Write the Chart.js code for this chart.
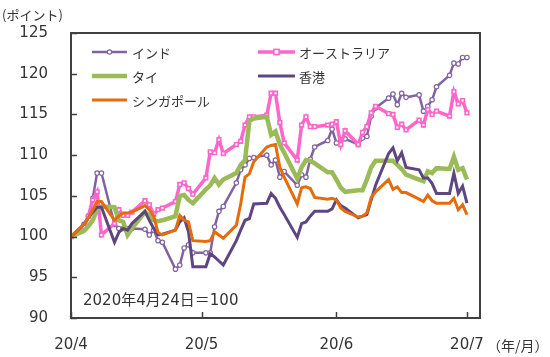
<!DOCTYPE html>
<html>
<head>
<meta charset="utf-8">
<script src="https://cdn.jsdelivr.net/npm/chart.js@4.4.1/dist/chart.umd.min.js"></script>
<style>
html,body{margin:0;padding:0;background:#fff;}
#wrap{width:550px;height:357px;position:relative;}
</style>
</head>
<body>
<div id="wrap"><canvas id="c" width="550" height="357"></canvas></div>
<script>
// ---- data ----
const dates = [
"2020-04-24","2020-04-27","2020-04-28","2020-04-29","2020-04-30","2020-05-01",
"2020-05-04","2020-05-05","2020-05-06","2020-05-07","2020-05-08",
"2020-05-11","2020-05-12","2020-05-13","2020-05-14","2020-05-15",
"2020-05-18","2020-05-19","2020-05-20","2020-05-21","2020-05-22",
"2020-05-25","2020-05-26","2020-05-27","2020-05-28","2020-05-29",
"2020-06-01","2020-06-02","2020-06-03","2020-06-04","2020-06-05",
"2020-06-08","2020-06-09","2020-06-10","2020-06-11","2020-06-12",
"2020-06-15","2020-06-16","2020-06-17","2020-06-18","2020-06-19",
"2020-06-22","2020-06-23","2020-06-24","2020-06-25","2020-06-26",
"2020-06-29","2020-06-30","2020-07-01","2020-07-02","2020-07-03",
"2020-07-06","2020-07-07","2020-07-08","2020-07-09","2020-07-10",
"2020-07-13","2020-07-14","2020-07-15","2020-07-16","2020-07-17",
"2020-07-20","2020-07-21","2020-07-22","2020-07-23","2020-07-24"];

const india = [100,101.5,102.5,104.7,107.8,107.8,
101.5,101.0,101.0,101.0,101.0,
100.9,100.2,100.8,99.5,99.3,
96.0,96.5,98.6,99.0,98.0,
98.0,98.0,101.2,103.1,103.7,
106.6,108.2,108.8,109.6,109.7,
110.0,108.8,109.4,107.3,108.0,
106.3,107.6,107.3,109.5,111.0,
111.8,113.2,111.5,111.8,112.0,
111.3,112.1,112.3,114.8,115.8,
117.0,117.5,116.2,117.6,117.1,
117.4,115.4,116.0,116.8,118.4,
119.8,121.3,121.2,122.0,122.0];

const australia = [100,101.2,102.5,104.5,105.5,100.2,
101.6,103.3,102.6,102.6,103.0,
104.4,103.9,102.7,103.3,103.5,
104.3,106.4,106.6,105.9,105.2,
107.2,110.4,110.3,111.9,110.2,
111.3,111.7,113.7,114.7,114.7,
114.9,117.6,117.6,114.0,111.5,
109.4,113.7,114.7,113.5,113.5,
113.7,113.8,114.1,111.3,113.0,
111.3,112.8,113.5,115.2,116.0,
115.1,115.0,113.4,113.8,113.1,
114.3,113.7,115.6,115.0,115.4,
114.8,117.8,116.3,116.7,115.2];

const thailand = [100,100.7,101.3,102.0,103.3,103.7,
103.6,102.0,101.8,100.2,101.0,
103.0,102.6,102.0,101.9,102.0,
102.5,105.0,105.1,104.5,104.1,
105.8,106.3,107.2,106.4,107.0,
107.8,108.8,109.4,114.2,114.5,
114.7,112.5,112.9,111.3,110.3,
107.1,108.5,109.4,109.3,109.0,
107.9,107.9,107.0,106.0,105.5,
105.7,105.7,107.0,108.5,109.3,
109.3,109.3,108.8,108.3,107.6,
107.0,106.8,108.0,107.8,108.4,
108.3,109.8,108.2,108.4,107.0];

const hongkong = [100,101.5,102.3,103.0,103.6,103.6,
99.3,100.5,101.0,100.8,101.6,
103.1,102.0,101.0,100.2,100.3,
100.8,101.8,102.3,100.6,96.3,
96.3,97.9,97.5,97.0,96.5,
99.5,100.8,102.0,102.2,104.0,
104.1,105.3,104.7,103.6,102.7,
99.9,101.6,101.8,102.5,103.1,
103.1,103.4,104.5,103.8,103.5,
102.3,102.5,102.7,104.5,106.3,
110.2,110.9,109.3,110.3,108.5,
108.2,107.2,107.2,106.5,105.3,
105.3,107.8,105.3,106.2,104.1];

const singapore = [100,101.5,102.3,103.3,104.3,104.3,
102.0,102.5,102.9,102.9,103.0,
103.8,103.3,102.5,100.5,100.2,
100.8,102.6,102.0,101.8,99.5,
99.4,99.5,100.6,100.2,99.8,
101.4,104.0,107.3,107.7,109.2,
111.0,111.2,111.3,108.5,107.3,
104.0,106.0,106.1,105.9,104.8,
104.6,104.7,104.5,103.5,103.1,
102.4,102.5,102.9,104.8,105.5,
107.0,105.8,106.1,105.4,105.4,
104.6,104.3,105.1,104.4,104.1,
104.1,104.7,103.3,103.9,102.7];

const seriesNames = ["インド","オーストラリア","タイ","香港","シンガポール"];
const tickDates = ["2020-04-24","2020-05-24","2020-06-24","2020-07-24"];
const tickLabels = ["20/4","20/5","20/6","20/7"];
const yTicks = [90,95,100,105,110,115,120,125];

// ---- helpers ----
const t0 = Date.parse(dates[0]+"T00:00:00Z");
const dayOf = s => Math.round((Date.parse(s+"T00:00:00Z") - t0)/86400000);
const tickDays = tickDates.map(dayOf);
const pts = arr => dates.map((d,i)=>({x: dayOf(d), y: arr[i]}));

const C_INDIA = "#8064A2", C_AUS = "#FF66CC", C_THAI = "#9BBB59", C_HK = "#5E4681", C_SG = "#E46C0A";
const NUMFONT = "'DejaVu Sans','Noto Sans CJK JP',sans-serif";
const JPFONT = "'Noto Sans CJK JP','DejaVu Sans',sans-serif";
const TXT = "#333333";

const datasets = [
  {label: seriesNames[0], data: pts(india), borderColor: C_INDIA, borderWidth: 2.5,
   pointStyle: 'circle', pointRadius: 2.2, pointBorderWidth: 1.2, pointBackgroundColor: "#fff", pointBorderColor: C_INDIA, order: 5},
  {label: seriesNames[1], data: pts(australia), borderColor: C_AUS, borderWidth: 3.5,
   pointStyle: 'rect', pointRadius: 2.6, pointBorderWidth: 1.6, pointBackgroundColor: "#fff", pointBorderColor: C_AUS, order: 4},
  {label: seriesNames[2], data: pts(thailand), borderColor: C_THAI, borderWidth: 4.5, pointRadius: 0, order: 3},
  {label: seriesNames[3], data: pts(hongkong), borderColor: C_HK, borderWidth: 3, pointRadius: 0, order: 2},
  {label: seriesNames[4], data: pts(singapore), borderColor: C_SG, borderWidth: 3, pointRadius: 0, order: 1}
];
datasets.forEach(d=>{d.tension=0; d.fill=false; d.borderJoinStyle='miter'; d.pointHoverRadius=0;});

const decor = {
  id: 'decor',
  afterDraw(chart){
    const ctx = chart.ctx, a = chart.chartArea;
    const xs = chart.scales.x, ys = chart.scales.y;
    ctx.save();
    // frame
    ctx.strokeStyle = "#404040"; ctx.lineWidth = 2;
    ctx.strokeRect(a.left, a.top, a.right-a.left, a.bottom-a.top);
    // inward ticks
    ctx.lineWidth = 1.5;
    ctx.beginPath();
    yTicks.forEach(v=>{ const y = Math.round(ys.getPixelForValue(v))+0.5; ctx.moveTo(a.left, y); ctx.lineTo(a.left+6, y); });
    tickDays.forEach(v=>{ const x = Math.round(xs.getPixelForValue(v))+0.5; ctx.moveTo(x, a.bottom); ctx.lineTo(x, a.bottom-6); });
    ctx.stroke();
    // legend
    const items = [
      {name: seriesNames[0], c: C_INDIA, w: 2.5, m: 'circle', x1: 92, x2: 127, tx: 132, y: 52},
      {name: seriesNames[1], c: C_AUS, w: 3.5, m: 'rect', x1: 258, x2: 295, tx: 299, y: 52},
      {name: seriesNames[2], c: C_THAI, w: 4.5, m: null, x1: 92, x2: 127, tx: 132, y: 76},
      {name: seriesNames[3], c: C_HK, w: 3, m: null, x1: 258, x2: 295, tx: 299, y: 76},
      {name: seriesNames[4], c: C_SG, w: 3, m: null, x1: 92, x2: 127, tx: 132, y: 100}
    ];
    items.forEach(it=>{
      ctx.strokeStyle = it.c; ctx.lineWidth = it.w;
      ctx.beginPath(); ctx.moveTo(it.x1, it.y); ctx.lineTo(it.x2, it.y); ctx.stroke();
      const mx = (it.x1+it.x2)/2;
      if (it.m === 'circle'){
        ctx.fillStyle = "#fff"; ctx.lineWidth = 1.2;
        ctx.beginPath(); ctx.arc(mx, it.y, 2.2, 0, Math.PI*2); ctx.fill(); ctx.stroke();
      } else if (it.m === 'rect'){
        ctx.fillStyle = "#fff"; ctx.lineWidth = 1.6;
        ctx.fillRect(mx-2.6, it.y-2.6, 5.2, 5.2); ctx.strokeRect(mx-2.6, it.y-2.6, 5.2, 5.2);
      }
      ctx.fillStyle = TXT; ctx.font = "13px " + JPFONT;
      ctx.textBaseline = "middle"; ctx.textAlign = "left";
      ctx.fillText(it.name, it.tx, it.y+1);
    });
    // annotations
    ctx.fillStyle = TXT; ctx.textBaseline = "middle"; ctx.textAlign = "left";
    ctx.font = "15px " + NUMFONT;
    ctx.fillText("2020年4月24日＝100", 83, 301);
    ctx.font = "13px " + JPFONT;
    ctx.fillText("(ポイント)", 2, 15);
    ctx.font = "14px " + JPFONT;
    ctx.fillText("（年/月）", 487, 346);
    ctx.restore();
  }
};

new Chart(document.getElementById('c'), {
  type: 'line',
  data: {datasets},
  options: {
    responsive: false, animation: false, devicePixelRatio: 1,
    layout: {padding: {left: 0, top: 33, right: 70, bottom: 0}},
    plugins: {legend: {display: false}, tooltip: {enabled: false}},
    scales: {
      x: {
        type: 'linear', min: 0, max: 94,
        grid: {display: false, drawTicks: false}, border: {display: false},
        afterFit(s){ s.height = 39; },
        afterBuildTicks(s){ s.ticks = tickDays.map(v=>({value: v})); },
        ticks: {
          autoSkip: false, maxRotation: 0, padding: 18, color: TXT,
          font: {family: NUMFONT, size: 15},
          callback: (v) => { const i = tickDays.indexOf(v); return i >= 0 ? tickLabels[i] : ''; }
        }
      },
      y: {
        min: 90, max: 125,
        grid: {display: false, drawTicks: false}, border: {display: false},
        afterFit(s){ s.width = 71; },
        afterBuildTicks(s){ s.ticks = yTicks.map(v=>({value: v})); },
        ticks: {padding: 23, color: TXT, font: {family: NUMFONT, size: 15}}
      }
    }
  },
  plugins: [decor]
});
</script>
</body>
</html>
